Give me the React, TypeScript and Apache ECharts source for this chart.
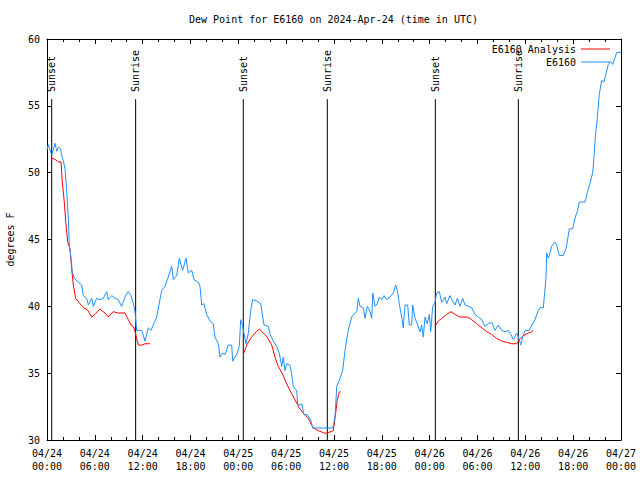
import React, { useEffect, useRef } from 'react';
import * as echarts from 'echarts';

const FONT = '"DejaVu Sans Mono", "Liberation Mono", monospace';

const titleText = 'Dew Point for E6160 on 2024-Apr-24 (time in UTC)';
const yName = 'degrees F';
const stationName = 'E6160';
const analysisName = 'E6160 Analysis';

// hours since 2024-04-24 00:00 UTC
const blueHours = [
  0, 0.16, 0.59, 1.0, 1.22, 1.42, 1.72, 1.84, 2.04, 2.26, 2.47, 2.67, 2.8, 3.01, 3.17, 3.42, 3.93, 4.35, 4.55, 4.98,
  5.18, 5.61, 5.81, 6.23, 6.65, 7.06, 7.49, 7.69, 8.12, 8.53, 8.94, 9.37, 9.78, 10.2, 10.54, 10.83, 11.04, 11.25, 11.88, 12.29,
  12.71, 13.05, 13.46, 13.76, 14.39, 14.8, 15.22, 15.64, 15.84, 16.27, 16.6, 17.02, 17.44, 17.72, 18.15, 18.44, 18.98, 19.19, 19.41, 19.69,
  20.03, 20.45, 20.86, 21.07, 21.49, 21.7, 22.04, 22.33, 22.74, 23.17, 23.29, 23.8, 24.12, 24.3, 24.55, 24.71, 24.96, 25.25, 25.55, 25.8,
  26.3, 26.81, 27.06, 27.22, 27.76, 27.97, 28.39, 28.81, 29.14, 29.44, 29.64, 29.85, 30.07, 30.48, 30.69, 30.9, 31.32, 31.45, 31.95, 32.24,
  32.65, 33.08, 33.33, 35.84, 36.13, 36.34, 36.75, 37.09, 37.38, 37.59, 37.79, 38.22, 38.63, 38.85, 39.05, 39.26, 39.68, 39.89, 40.18, 40.52,
  40.73, 40.86, 41.14, 41.43, 41.68, 41.98, 42.27, 42.61, 43.03, 43.44, 43.74, 43.94, 44.19, 44.49, 44.69, 44.91, 45.24, 45.45, 45.75, 45.87,
  46.16, 46.45, 46.79, 47.0, 47.2, 47.42, 47.7, 47.96, 48.13, 48.38, 48.67, 48.88, 49.21, 49.51, 49.92, 50.14, 50.55, 50.76, 51.18, 51.47,
  51.81, 52.14, 52.43, 52.85, 53.27, 53.69, 54.1, 54.53, 54.94, 55.36, 55.78, 56.2, 56.61, 57.04, 57.45, 57.87, 58.2, 58.49, 58.92, 59.25,
  59.42, 59.67, 59.96, 60.5, 60.8, 61.21, 61.63, 61.84, 62.26, 62.38, 62.59, 62.68, 62.88, 63.1, 63.31, 63.72, 63.93, 64.26, 64.76, 65.1,
  65.39, 65.52, 65.94, 66.23, 66.52, 66.77, 67.49, 67.77, 68.11, 68.45, 68.62, 68.78, 69.03, 69.28, 69.58, 69.87, 70.12, 70.41, 70.71, 70.96,
  71.25, 71.46, 72.0,
];
const blueValues = [
  51.7, 52.1, 51.3, 52.2, 51.6, 51.9, 51.8, 51.3, 50.9, 50.3, 48.6, 46.6, 44.6, 43.6, 42.6, 42.1, 41.8, 41.6, 40.8, 40.6,
  40.1, 40.6, 40.0, 40.6, 40.5, 40.6, 41.1, 40.5, 40.8, 40.6, 40.5, 40.0, 40.7, 41.1, 40.8, 40.2, 39.6, 38.2, 38.2, 37.4,
  38.4, 38.2, 38.8, 39.2, 41.2, 41.5, 42.2, 43.0, 42.0, 42.3, 43.6, 42.7, 43.6, 42.5, 42.7, 42.0, 41.8, 41.5, 40.1, 40.2,
  39.4, 38.9, 38.7, 37.7, 37.2, 36.2, 36.5, 36.4, 37.1, 37.1, 35.9, 36.4, 37.0, 39.0, 38.5, 38.0, 37.2, 38.0, 39.7, 40.5,
  40.4, 40.2, 39.2, 38.6, 38.5, 37.9, 37.4, 37.0, 36.5, 35.5, 36.2, 35.2, 35.7, 35.6, 34.9, 34.0, 33.7, 32.6, 32.7, 31.9,
  31.9, 31.5, 30.9, 30.9, 31.7, 34.0, 34.6, 35.2, 36.7, 37.5, 38.2, 39.2, 39.5, 39.6, 40.6, 40.0, 39.9, 39.1, 40.0, 39.6,
  39.1, 41.0, 40.0, 40.2, 40.7, 40.5, 40.8, 40.5, 40.7, 41.0, 41.6, 41.2, 40.2, 39.2, 38.4, 40.1, 40.1, 38.6, 38.6, 40.1,
  39.1, 38.7, 38.1, 38.6, 37.7, 39.2, 38.7, 39.4, 38.1, 40.0, 40.3, 41.0, 41.1, 40.3, 40.7, 40.2, 40.8, 40.5, 40.1, 40.6,
  40.0, 40.6, 40.1, 40.0, 39.9, 39.4, 39.2, 39.0, 38.5, 38.7, 38.8, 38.2, 38.6, 38.2, 38.1, 38.2, 37.9, 37.5, 38.0, 37.5,
  37.1, 37.7, 38.2, 38.2, 38.6, 39.0, 39.7, 39.9, 39.9, 40.7, 42.1, 44.0, 43.6, 44.0, 44.5, 44.8, 44.6, 43.8, 43.8, 44.3,
  45.3, 45.8, 45.8, 46.6, 47.1, 47.8, 47.8, 48.5, 49.2, 50.0, 51.2, 52.7, 54.1, 55.9, 56.9, 56.8, 57.4, 58.1, 58.3, 58.1,
  58.6, 59.0, 59.0,
];

const redHours1 = [0.5, 1.0, 1.42, 1.76, 1.92, 2.17, 2.35, 2.6, 2.89, 3.1, 3.3, 3.6, 4.14, 4.55, 5.11, 5.61, 6.02, 6.65, 7.28, 7.69, 8.32, 8.94, 9.78, 10.2, 10.54, 10.83, 11.04, 11.45, 11.88, 12.29, 12.92];
const redValues1 = [51.1, 51.0, 50.8, 50.8, 49.3, 47.8, 46.3, 44.8, 44.3, 42.8, 41.6, 40.6, 40.2, 39.9, 39.7, 39.2, 39.4, 39.8, 39.5, 39.2, 39.6, 39.5, 39.5, 39.0, 38.6, 38.5, 38.1, 37.1, 37.1, 37.2, 37.2];
const redHours2 = [24.62, 25.05, 25.55, 26.09, 26.63, 27.13, 27.63, 28.19, 28.6, 29.01, 29.57, 30.07, 30.57, 31.11, 31.65, 32.15, 32.78, 33.4, 34.03, 34.87, 35.5, 35.91, 36.25, 36.41, 36.67, 36.84];
const redValues2 = [36.4, 37.1, 37.6, 38.0, 38.3, 38.0, 37.7, 37.1, 36.2, 35.5, 34.9, 34.2, 33.6, 33.0, 32.4, 32.0, 31.6, 30.9, 30.7, 30.5, 30.6, 30.7, 32.2, 33.0, 33.6, 33.6];
const redHours3 = [48.67, 49.08, 49.51, 50.14, 50.68, 51.18, 51.72, 52.22, 52.72, 53.27, 53.9, 54.53, 55.16, 55.78, 56.41, 57.04, 57.66, 58.29, 58.92, 59.25, 59.75, 60.38, 60.8, 61.0];
const redValues3 = [38.5, 38.9, 39.1, 39.4, 39.6, 39.4, 39.2, 39.2, 39.2, 39.0, 38.7, 38.4, 38.1, 37.9, 37.6, 37.4, 37.3, 37.2, 37.2, 37.5, 37.8, 38.0, 38.1, 38.2];

const eventHours = [0.59, 11.12, 24.62, 35.16, 48.71, 59.12];
const eventLabels = ['Sunset', 'Sunrise', 'Sunset', 'Sunrise', 'Sunset', 'Sunrise'];
const eventLineTop = 55.5;

const yMin = 30;
const yMax = 60;
const yStep = 5;
const xMin = 0;
const xMax = 72;
const xStep = 6;

const zip = (a: number[], b: number[]) => a.map((v, i) => [v, b[i]]);

const fmtX = (h: number) => {
  const day = 24 + Math.floor(h / 24 + 1e-9);
  const hr = Math.round(h - (day - 24) * 24);
  const hh = String(hr).padStart(2, '0');
  return `04/${day}\n${hh}:00`;
};

export default function App() {
  const ref = useRef<HTMLDivElement>(null);
  useEffect(() => {
    const chart = echarts.init(ref.current!, null, { renderer: 'svg' });
    const textBase = { fontFamily: FONT, fontSize: 10, color: '#000' };
    const axisLine = { show: true, onZero: false, lineStyle: { color: '#000', width: 1 } };
    const tick = { show: true, inside: true, length: 5, lineStyle: { color: '#000' } };
    const minor = { show: true, splitNumber: 3, length: 3, lineStyle: { color: '#000' } };

    const eventSeries = eventHours.map((t, i) => ({
      type: 'line',
      name: 'event' + i,
      data: [
        [t, yMin],
        [t, eventLineTop],
      ],
      symbol: 'none',
      lineStyle: { color: '#000', width: 1 },
      silent: true,
      z: 1,
    }));

    const eventLabelSeries = {
      type: 'scatter',
      name: 'eventLabels',
      data: eventHours.map((t, i) => ({ value: [t, eventLineTop], name: eventLabels[i] })),
      symbolSize: 0.1,
      itemStyle: { color: '#000' },
      silent: true,
      label: {
        show: true,
        formatter: (p: any) => p.name,
        position: 'top',
        distance: 7,
        rotate: 90,
        align: 'left',
        verticalAlign: 'middle',
        ...textBase,
        opacity: 1,
      },
      z: 1,
    };

    const redSeries = [
      [redHours1, redValues1],
      [redHours2, redValues2],
      [redHours3, redValues3],
    ].map(([h, v]) => ({
      type: 'line',
      name: analysisName,
      data: zip(h, v),
      symbol: 'none',
      color: '#ff0000',
      lineStyle: { color: '#ff0000', width: 1 },
      z: 2,
    }));

    const legendBase = {
      right: 30,
      align: 'right',
      icon: 'rect',
      itemWidth: 29,
      itemHeight: 1,
      itemGap: 3,
      textStyle: textBase,
      padding: 0,
    };

    chart.setOption({
      animation: false,
      backgroundColor: '#fff',
      title: {
        text: titleText,
        left: 184,
        top: 9,
        textStyle: { fontFamily: FONT, fontSize: 10, fontWeight: 'normal', color: '#000' },
      },
      legend: [
        { ...legendBase, data: [analysisName], top: 44 },
        { ...legendBase, data: [stationName], top: 57 },
      ],
      grid: { left: 47, right: 19, top: 39, bottom: 40, outerBoundsMode: 'none', containLabel: false },
      xAxis: [
        {
          type: 'value',
          min: xMin,
          max: xMax,
          interval: xStep,
          position: 'bottom',
          axisLine,
          axisTick: tick,
          minorTick: minor,
          splitLine: { show: false },
          axisLabel: { ...textBase, margin: 7, lineHeight: 13, formatter: (v: number) => fmtX(v) },
        },
        {
          type: 'value',
          min: xMin,
          max: xMax,
          interval: xStep,
          position: 'top',
          axisLine,
          axisTick: tick,
          minorTick: minor,
          splitLine: { show: false },
          axisLabel: { show: false },
        },
      ],
      yAxis: [
        {
          type: 'value',
          min: yMin,
          max: yMax,
          interval: yStep,
          position: 'left',
          name: yName,
          nameLocation: 'middle',
          nameGap: 32,
          nameTextStyle: textBase,
          axisLine,
          axisTick: tick,
          splitLine: { show: false },
          axisLabel: { ...textBase, margin: 7 },
        },
        {
          type: 'value',
          min: yMin,
          max: yMax,
          interval: yStep,
          position: 'right',
          axisLine,
          axisTick: tick,
          splitLine: { show: false },
          axisLabel: { show: false },
        },
      ],
      series: [
        ...eventSeries,
        eventLabelSeries,
        ...redSeries,
        {
          type: 'line',
          name: stationName,
          data: zip(blueHours, blueValues),
          symbol: 'none',
          color: '#1e90ff',
          lineStyle: { color: '#1e90ff', width: 1 },
          z: 3,
        },
      ],
    });
    return () => chart.dispose();
  }, []);
  return (
    <div
      ref={ref}
      style={{ position: 'fixed', left: 0, top: 0, width: 640, height: 480, background: '#fff' }}
    />
  );
}
